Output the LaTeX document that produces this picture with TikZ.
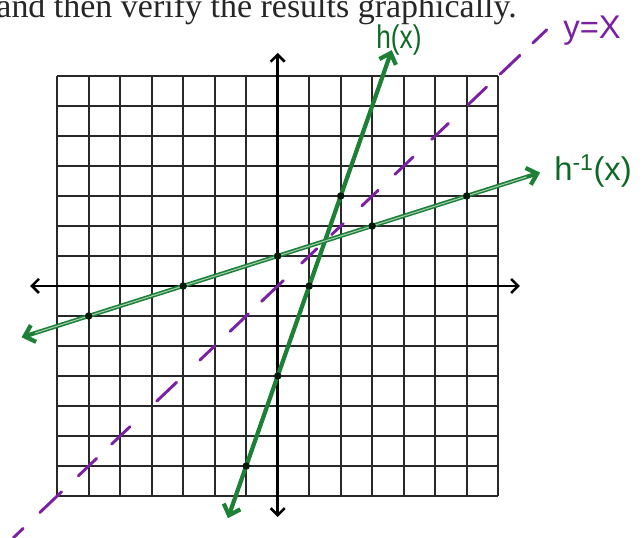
\documentclass[tikz,border=0pt]{standalone}
\usepackage{fontspec}
\setmainfont{Liberation Serif}
\newfontfamily\handfont{Liberation Sans}
\usetikzlibrary{arrows.meta}
\definecolor{linegreen}{RGB}{28,128,55}
\definecolor{pengreen}{RGB}{14,105,38}
\definecolor{penpurple}{RGB}{122,32,162}
\definecolor{gridgray}{RGB}{40,40,40}

\begin{document}
\begin{tikzpicture}[x=0.945cm, y=0.9cm,
    axis/.style={line width=2.2pt, arrows={Straight Barb[length=6pt,width=12pt]-Straight Barb[length=6pt,width=12pt]}},
    graphline/.style={linegreen, line width=3.6pt, line cap=round,
        arrows={Straight Barb[length=8pt,width=15pt]-Straight Barb[length=8pt,width=15pt]}},
    dot/.style={fill=black!80!linegreen},
    hand/.style={font=\handfont\fontsize{28}{30}\selectfont, inner sep=0pt}]
    \useasboundingbox (-8.816,-8.367) rectangle (11.628,9.533);
    % line of text above the picture
    \node[anchor=base east, inner sep=0pt, text=black!85,
          font=\fontsize{29}{32}\selectfont] (caption) at (7.6,8.95)
          {and then verify the results graphically.};
    % grid and axes
    \draw[gridgray, line width=1.8pt, step=1] (-7,-7) grid (7,7);
    \coordinate (xl) at (-7.86,0);
    \coordinate (xr) at (7.69,0);
    \coordinate (yb) at (0,-7.7);
    \coordinate (yt) at (0,7.77);
    \draw[axis] (xl) -- (xr);
    \draw[axis] (yb) -- (yt);
    % y = x, hand drawn dashes
    \foreach \a/\b in {-8.39/-8.08,-7.55/-6.86,-6.33/-5.75,-5.27/-4.69,
        -3.84/-3.21,-2.47/-1.99,-1.51/-0.93,-0.51/0.18,0.76/1.24,1.71/2.08,
        2.67/3.19,3.72/4.3,4.89/5.42,6.05/6.63,7.06/7.69,8.1/8.54} {
        \draw[penpurple, line width=2.5pt, line cap=round] (\a,\a) -- (\b,\b);
    }
    % h(x) = 3x - 3
    \coordinate (hlo) at (-1.58,-7.74);
    \coordinate (hhi) at (3.62,7.86);
    \draw[graphline] (hlo) -- (hhi);
    % inverse: x/3 + 1
    \coordinate (ilo) at (-8.13,-1.71);
    \coordinate (ihi) at (8.33,3.78);
    \draw[graphline] (ilo) -- (ihi);
    \draw[linegreen!40, line width=0.9pt] (-7.7,-1.567) -- (7.9,3.633);
    \foreach \p in {(-1,-6),(0,-3),(1,0),(2,3),(-6,-1),(-3,0),(0,1),(3,2),(6,3)} {
        \fill[dot] \p circle (3.2pt);
    }
    % labels
    \node[hand, text=pengreen, xscale=0.8] (hlabel) at (3.85,8.2) {h(x)};
    \node[hand, text=pengreen] (hinvlabel) at (10.01,3.83) {h\textsuperscript{-1}(x)};
    \node[hand, text=penpurple] (idlabel) at (9.98,8.5) {y=X};
\end{tikzpicture}
\end{document}
